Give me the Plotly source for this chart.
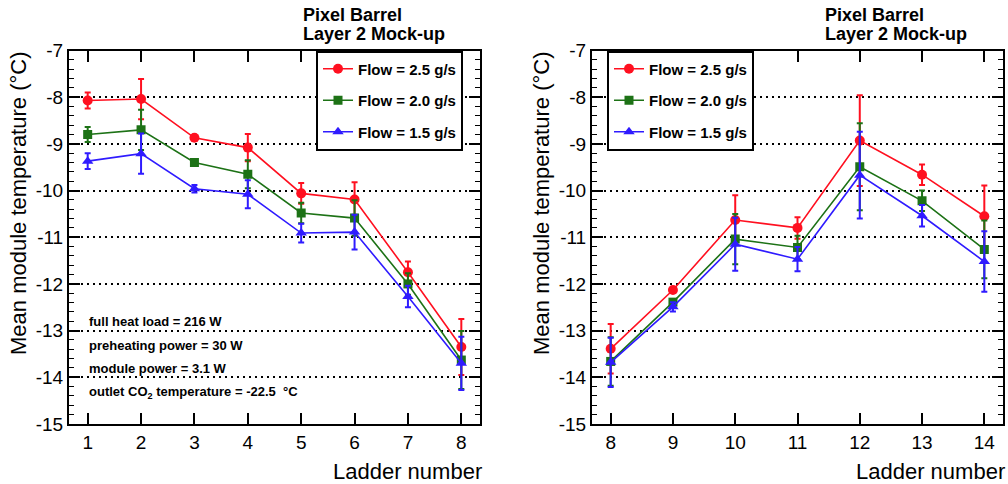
import plotly.graph_objects as go

# ---------------- data ----------------
ladders_left = [1, 2, 3, 4, 5, 6, 7, 8]
t25_left = [-8.07, -8.04, -8.87, -9.08, -10.06, -10.19, -11.75, -13.35]
e25_left = [0.17, 0.43, 0.04, 0.29, 0.22, 0.37, 0.23, 0.60]
t20_left = [-8.80, -8.70, -9.40, -9.65, -10.48, -10.59, -12.00, -13.63]
e20_left = [0.16, 0.43, 0.05, 0.30, 0.22, 0.38, 0.23, 0.62]
t15_left = [-9.37, -9.21, -9.96, -10.08, -10.91, -10.89, -12.27, -13.70]
e15_left = [0.17, 0.43, 0.08, 0.30, 0.20, 0.37, 0.23, 0.57]

ladders_right = [8, 9, 10, 11, 12, 13, 14]
t25_right = [-13.39, -12.13, -10.63, -10.80, -8.93, -9.66, -10.55]
e25_right = [0.53, 0.05, 0.53, 0.23, 0.97, 0.22, 0.66]
t20_right = [-13.66, -12.39, -11.04, -11.22, -9.49, -10.22, -11.26]
e20_right = [0.52, 0.07, 0.54, 0.25, 0.93, 0.22, 0.62]
t15_right = [-13.68, -12.49, -11.15, -11.47, -9.67, -10.54, -11.52]
e15_right = [0.53, 0.10, 0.57, 0.26, 0.93, 0.23, 0.65]

series_names = ["Flow = 2.5 g/s", "Flow = 2.0 g/s", "Flow = 1.5 g/s"]
y_tick_vals = [-15, -14, -13, -12, -11, -10, -9, -8, -7]
y_tick_text = ["-15", "-14", "-13", "-12", "-11", "-10", "-9", "-8", "-7"]
x_ticks_left = [1, 2, 3, 4, 5, 6, 7, 8]
x_ticks_right = [8, 9, 10, 11, 12, 13, 14]
info_lines = [
    "full heat load = 216 W",
    "preheating power = 30 W",
    "module power = 3.1 W",
    "outlet CO<sub>2</sub> temperature = -22.5  °C",
]
title_lines = ["Pixel Barrel", "Layer 2 Mock-up"]

# ---------------- style ----------------
W, H = 1008, 484
FONT = "Liberation Sans, Arial, sans-serif"
colors = ["#ff1020", "#1d7216", "#2f1bff"]
symbols = ["circle", "square", "triangle-up"]
msizes = [10, 9, 10]


def px_x(p):
    return p / W


def px_y(p):
    return (H - p) / H


fig = go.Figure()

left_sets = [(t25_left, e25_left), (t20_left, e20_left), (t15_left, e15_left)]
right_sets = [(t25_right, e25_right), (t20_right, e20_right), (t15_right, e15_right)]

for i, (vals, errs) in enumerate(left_sets):
    fig.add_trace(go.Scatter(
        x=ladders_left, y=vals, mode="lines+markers", name=series_names[i],
        line=dict(color=colors[i], width=1.6),
        marker=dict(color=colors[i], symbol=symbols[i], size=msizes[i], line=dict(width=0)),
        error_y=dict(type="data", array=errs, visible=True, color=colors[i], thickness=2, width=3),
        xaxis="x", yaxis="y", legend="legend", legendgroup="L%d" % i,
    ))
for i, (vals, errs) in enumerate(right_sets):
    fig.add_trace(go.Scatter(
        x=ladders_right, y=vals, mode="lines+markers", name=series_names[i],
        line=dict(color=colors[i], width=1.6),
        marker=dict(color=colors[i], symbol=symbols[i], size=msizes[i], line=dict(width=0)),
        error_y=dict(type="data", array=errs, visible=True, color=colors[i], thickness=2, width=3),
        xaxis="x2", yaxis="y2", legend="legend2", legendgroup="R%d" % i,
    ))

ydom = [px_y(424), px_y(50.5)]

common_x = dict(
    showline=True, linecolor="black", linewidth=2, mirror="allticks",
    ticks="inside", ticklen=11, tickwidth=1.5, tickcolor="black",
    showgrid=False, zeroline=False, automargin=False,
    tickfont=dict(family=FONT, size=19, color="black"),
)
common_y = dict(
    showline=True, linecolor="black", linewidth=2, mirror="allticks",
    ticks="inside", ticklen=11, tickwidth=1.5, tickcolor="black",
    range=[-15, -7], tickvals=y_tick_vals, ticktext=y_tick_text,
    showgrid=True, gridcolor="black", gridwidth=2, griddash="2px,4px",
    zeroline=False, automargin=False,
    minor=dict(ticks="inside", ticklen=5, dtick=0.2, tickwidth=1.2, tickcolor="black", showgrid=False),
    tickfont=dict(family=FONT, size=19, color="black"),
)

legend_common = dict(
    xanchor="left", yanchor="top",
    bgcolor="white", bordercolor="black", borderwidth=2,
    font=dict(family=FONT, size=15, color="black", weight="bold"),
    tracegroupgap=9, traceorder="grouped", itemwidth=30,
)

fig.update_layout(
    width=W, height=H, autosize=False,
    margin=dict(l=0, r=0, t=0, b=0, pad=0, autoexpand=False),
    paper_bgcolor="white", plot_bgcolor="white",
    font=dict(family=FONT, color="black"),
    xaxis=dict(domain=[px_x(69), px_x(480)], range=[0.65, 8.35], tickvals=x_ticks_left,
               anchor="y", **common_x),
    yaxis=dict(domain=ydom, anchor="x", **common_y),
    xaxis2=dict(domain=[px_x(592), px_x(1003)], range=[7.7, 14.3], tickvals=x_ticks_right,
                anchor="y2", **common_x),
    yaxis2=dict(domain=ydom, anchor="x2", **common_y),
    legend=dict(x=px_x(316), y=px_y(50.5), **legend_common),
    legend2=dict(x=px_x(607), y=px_y(50.5), **legend_common),
    showlegend=True,
)

annotations = []
# titles (two lines, placed separately for ROOT-like tight spacing)
for xl in (301, 823):
    for line, yc in zip(title_lines, [15, 34]):
        annotations.append(dict(
            x=px_x(xl), y=px_y(yc), xref="paper", yref="paper", xanchor="left", yanchor="middle",
            text=line, showarrow=False, align="left",
            font=dict(family=FONT, size=18, color="black", weight="bold"),
        ))
# y-axis titles
for xc in (18, 541):
    annotations.append(dict(
        x=px_x(xc), y=px_y(204), xref="paper", yref="paper", xanchor="center", yanchor="middle",
        text="Mean module temperature (°C)", textangle=-90, showarrow=False,
        font=dict(family=FONT, size=22, color="black"),
    ))
# x-axis titles
for xr in (483, 1006):
    annotations.append(dict(
        x=px_x(xr), y=px_y(471), xref="paper", yref="paper", xanchor="right", yanchor="middle",
        text="Ladder number", showarrow=False, borderpad=0,
        font=dict(family=FONT, size=22, color="black"),
    ))
# info text
for line, yc in zip(info_lines, [321, 345, 368.5, 392]):
    annotations.append(dict(
        x=px_x(87), y=px_y(yc), xref="paper", yref="paper", xanchor="left", yanchor="middle",
        text=line, showarrow=False,
        font=dict(family=FONT, size=13, color="black", weight="bold"),
    ))
fig.update_layout(annotations=annotations)

fig.write_html(
    "out.html",
    config={"displayModeBar": False},
    post_script="document.body.style.margin='0';document.body.style.overflow='hidden';",
)
